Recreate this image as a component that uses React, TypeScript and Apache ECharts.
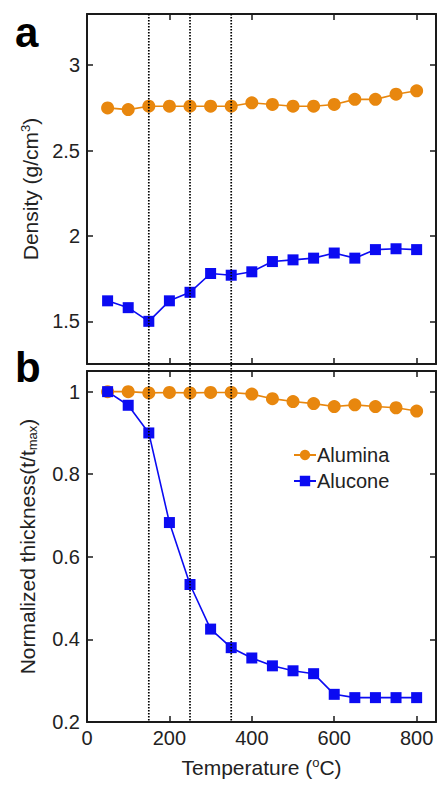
import React, { useEffect, useRef } from "react";
import * as echarts from "echarts";

const temperatures = [50, 100, 150, 200, 250, 300, 350, 400, 450, 500, 550, 600, 650, 700, 750, 800];
const aluminaDensity = [2.75, 2.74, 2.76, 2.76, 2.76, 2.76, 2.76, 2.78, 2.77, 2.76, 2.76, 2.77, 2.80, 2.80, 2.83, 2.85];
const aluconeDensity = [1.62, 1.58, 1.50, 1.62, 1.67, 1.78, 1.77, 1.79, 1.85, 1.86, 1.87, 1.90, 1.87, 1.92, 1.925, 1.92];
const aluminaThickness = [1.0, 1.0, 0.997, 0.998, 0.997, 0.998, 0.998, 0.994, 0.983, 0.976, 0.971, 0.964, 0.968, 0.964, 0.961, 0.953];
const aluconeThickness = [1.0, 0.967, 0.90, 0.683, 0.533, 0.425, 0.38, 0.355, 0.336, 0.324, 0.317, 0.267, 0.259, 0.259, 0.259, 0.259];
const markerTemps = [150, 250, 350];
const xTicks = [0, 200, 400, 600, 800];
const densityTicks = [1.5, 2, 2.5, 3];
const thicknessTicks = [0.2, 0.4, 0.6, 0.8, 1];

const ORANGE = "#E8870E";
const BLUE = "#0B0BF2";
const FONT = "Liberation Sans, Arial, sans-serif";
const AX = "#1a1a1a";

export default function App() {
  const ref = useRef<HTMLDivElement>(null);
  useEffect(() => {
    if (!ref.current) return;
    const chart = echarts.init(ref.current, null, { renderer: "svg" });
    const axisLine = { show: true, onZero: false, lineStyle: { color: AX, width: 2 } };
    const xBase = (gridIndex: number, position: string, labels: boolean) => ({
      type: "value",
      gridIndex,
      position,
      min: 0,
      max: 847,
      axisLine,
      axisTick: { show: true, inside: true, length: 6, lineStyle: { color: AX, width: 1.5 }, customValues: xTicks },
      axisLabel: labels
        ? { show: true, customValues: xTicks, fontSize: 20, color: "#222", fontFamily: FONT, margin: 6 }
        : { show: false },
      splitLine: { show: false },
    });
    const yBase = (gridIndex: number, position: string, min: number, max: number, ticks: number[], labels: boolean) => ({
      type: "value",
      gridIndex,
      position,
      min,
      max,
      axisLine,
      axisTick: { show: true, inside: true, length: 6, lineStyle: { color: AX, width: 1.5 }, customValues: ticks },
      axisLabel: labels
        ? { show: true, customValues: ticks, fontSize: 20, color: "#222", fontFamily: FONT, margin: 7 }
        : { show: false },
      splitLine: { show: false },
    });
    const x0 = xBase(0, "bottom", false);
    const x1 = xBase(0, "top", false);
    const x2: any = xBase(1, "bottom", true);
    x2.name = "Temperature ({sup|o}C)";
    x2.nameLocation = "middle";
    x2.nameGap = 34;
    x2.nameTextStyle = {
      fontSize: 21,
      color: "#222",
      fontFamily: FONT,
      rich: { sup: { fontSize: 13, verticalAlign: "top", padding: [0, 0, 10, 0], fontFamily: FONT, color: "#222" } },
    };
    const x3 = xBase(1, "top", false);
    const y0: any = yBase(0, "left", 1.25, 3.3, densityTicks, true);
    y0.name = "Density (g/cm{sup|3})";
    y0.nameLocation = "middle";
    y0.nameGap = 44;
    y0.nameTextStyle = {
      fontSize: 21,
      color: "#222",
      fontFamily: FONT,
      rich: { sup: { fontSize: 13, verticalAlign: "top", padding: [0, 0, 10, 0], fontFamily: FONT, color: "#222" } },
    };
    const y1: any = yBase(1, "left", 0.2, 1.05, thicknessTicks, true);
    y1.name = "Normalized thickness(t/t{sub|max})";
    y1.nameLocation = "middle";
    y1.nameGap = 48;
    y1.nameTextStyle = {
      fontSize: 21,
      color: "#222",
      fontFamily: FONT,
      rich: { sub: { fontSize: 13, padding: [10, 0, 0, 0], fontFamily: FONT, color: "#222" } },
    };
    const y2 = yBase(0, "right", 1.25, 3.3, densityTicks, false);
    const y3 = yBase(1, "right", 0.2, 1.05, thicknessTicks, false);

    const mk = (arr: number[]) => temperatures.map((t, i) => [t, arr[i]]);
    const lineSeries = (name: string, color: string, symbol: string, size: number, xi: number, yi: number, arr: number[]) => ({
      type: "line",
      name,
      xAxisIndex: xi,
      yAxisIndex: yi,
      data: mk(arr),
      symbol,
      symbolSize: size,
      showAllSymbol: true,
      lineStyle: { color, width: 1.6 },
      itemStyle: { color },
      z: 3,
    });

    chart.setOption({
      animation: false,
      textStyle: { fontFamily: FONT },
      grid: [
        { left: 87, top: 14, width: 349, height: 350, containLabel: false },
        { left: 87, top: 371, width: 349, height: 351, containLabel: false },
      ],
      xAxis: [x0, x1, x2, x3],
      yAxis: [y0, y1, y2, y3],
      legend: {
        data: ["Alumina", "Alucone"],
        orient: "vertical",
        left: 293,
        top: 445,
        itemWidth: 22,
        itemHeight: 13,
        itemGap: 6,
        padding: 0,
        textStyle: { fontSize: 20, color: "#222", fontFamily: FONT, padding: [0, 0, 0, -4] },
      },
      series: [
        lineSeries("Alumina", ORANGE, "circle", 13, 0, 0, aluminaDensity),
        lineSeries("Alucone", BLUE, "rect", 11, 0, 0, aluconeDensity),
        lineSeries("Alumina", ORANGE, "circle", 13, 2, 1, aluminaThickness),
        lineSeries("Alucone", BLUE, "rect", 11, 2, 1, aluconeThickness),
      ],
    });

    const yTop = chart.convertToPixel({ yAxisIndex: 0 }, 3.3) as number;
    const yBot = chart.convertToPixel({ yAxisIndex: 1 }, 0.2) as number;
    const lines = markerTemps.map((t) => {
      const px = chart.convertToPixel({ xAxisIndex: 0 }, t) as number;
      return {
        type: "line",
        z: 100,
        shape: { x1: px, y1: yTop, x2: px, y2: yBot },
        style: { stroke: "#000", lineWidth: 1.7, lineDash: [1.5, 1.5] },
      };
    });
    chart.setOption({
      graphic: [
        ...lines,
        {
          type: "text",
          left: 15,
          top: 11,
          style: { text: "a", fontSize: 42, fontWeight: "bold", fill: "#000", fontFamily: FONT },
          z: 100,
        },
        {
          type: "text",
          left: 15,
          top: 346,
          style: { text: "b", fontSize: 42, fontWeight: "bold", fill: "#000", fontFamily: FONT },
          z: 100,
        },
      ],
    });

    return () => chart.dispose();
  }, []);
  return <div ref={ref} style={{ position: "fixed", left: 0, top: 0, width: 437, height: 792, background: "#fff" }} />;
}
